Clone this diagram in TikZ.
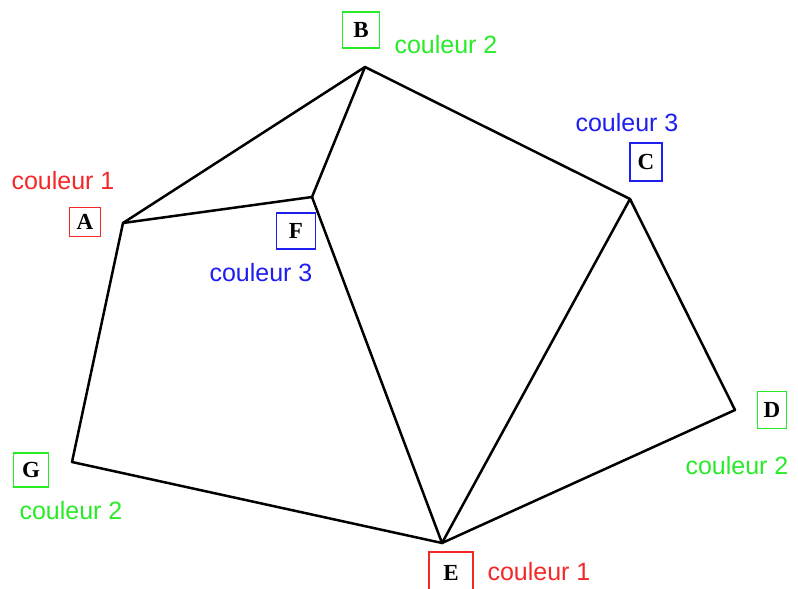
\documentclass[tikz,border=0pt]{standalone}
\usepackage{fontspec}
\newfontfamily\lblfont{Liberation Sans}
\newfontfamily\letfont{Liberation Serif}
\definecolor{cgreen}{RGB}{40,235,40}
\definecolor{cred}{RGB}{245,40,40}
\definecolor{cblue}{RGB}{30,30,240}
\begin{document}
\begin{tikzpicture}[x=1pt,y=-1pt,
  edge/.style={line width=2.5pt,line join=round,line cap=round},
  vbox/.style={draw,line width=1.4pt,inner sep=0pt,font=\letfont\bfseries\fontsize{23}{23}\selectfont},
  lbl/.style={inner sep=0pt,font=\lblfont\fontsize{25}{25}\selectfont}]
\useasboundingbox (0,0) rectangle (798,589);
\fill[white] (0,0) rectangle (798,589);
% vertices
\coordinate (A) at (123,223);
\coordinate (B) at (365,67);
\coordinate (C) at (630,199);
\coordinate (D) at (735,410);
\coordinate (E) at (442,543);
\coordinate (F) at (312,197);
\coordinate (G) at (72,462);
% edges
\draw[edge] (A) -- (B);
\draw[edge] (A) -- (F);
\draw[edge] (B) -- (F);
\draw[edge] (B) -- (C);
\draw[edge] (C) -- (D);
\draw[edge] (C) -- (E);
\draw[edge] (D) -- (E);
\draw[edge] (E) -- (F);
\draw[edge] (E) -- (G);
\draw[edge] (G) -- (A);
% letter boxes
\node[vbox,cgreen,minimum width=37pt,minimum height=36pt,text=black] (lB) at (361,30) {B};
\node[vbox,cred,minimum width=31pt,minimum height=29pt,text=black] (lA) at (85,222) {A};
\node[vbox,cblue,minimum width=39pt,minimum height=36pt,text=black] (lF) at (296,231) {F};
\node[vbox,cblue,minimum width=32pt,minimum height=38pt,text=black] (lC) at (646,162) {C};
\node[vbox,cgreen,minimum width=35pt,minimum height=34pt,text=black] (lG) at (31,470) {G};
\node[vbox,cgreen,minimum width=29pt,minimum height=37pt,text=black] (lD) at (772,410) {D};
\node[inner sep=0pt,font=\letfont\bfseries\fontsize{23}{23}\selectfont] (lE) at (451,573) {E};
\draw[cred,line width=1.4pt] (429,589) -- (429,552) -- (473,552) -- (473,589);
% colour labels
\node[lbl,cgreen] (tB) at (446,45) {couleur 2};
\node[lbl,cred] (tA) at (63,181) {couleur 1};
\node[lbl,cblue] (tF) at (261,273) {couleur 3};
\node[lbl,cblue] (tC) at (627,123) {couleur 3};
\node[lbl,cgreen] (tG) at (71,511) {couleur 2};
\node[lbl,cgreen] (tD) at (737,466) {couleur 2};
\node[lbl,cred] (tE) at (539,572) {couleur 1};
\end{tikzpicture}
\end{document}
